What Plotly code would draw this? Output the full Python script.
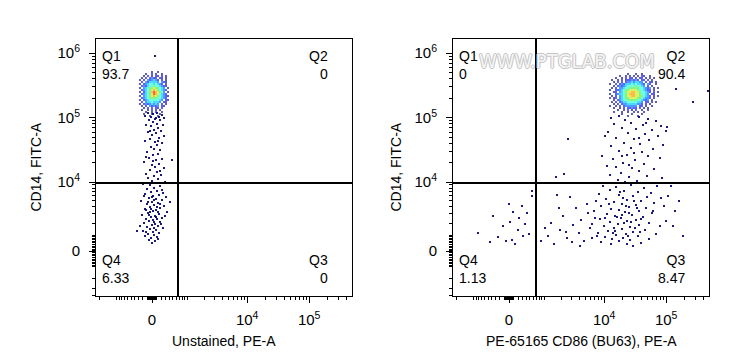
import numpy as np
import plotly.graph_objects as go

# ---------------- axis / label data ----------------
x_major_vals = [0, 1e4, 1e5]
x_major_text = ["0", "10<sup>4</sup>", "10<sup>5</sup>"]
y_major_vals = [0, 1e4, 1e5, 1e6]
y_major_text = ["0", "10<sup>4</sup>", "10<sup>5</sup>", "10<sup>6</sup>"]

x_titles = ["Unstained, PE-A", "PE-65165 CD86 (BU63), PE-A"]
y_title = "CD14, FITC-A"

quad_names = ["Q1", "Q2", "Q3", "Q4"]
left_quad_vals = ["93.7", "0", "0", "6.33"]
right_quad_vals = ["0", "90.4", "8.47", "1.13"]

# gates in display channels (256-channel biexponential display)
left_gate = (82, 113)
right_gate = (83, 113)

level_colors = ['#00008b', '#0000ff', '#0070ff', '#00c8ff', '#30ffd0',
                '#50f050', '#c8f020', '#ffa000', '#ff2000']

# ---------------- event data (display channels) ----------------
# dense population, density level per 2-channel cell; rows top -> bottom
left_cluster_x0, left_cluster_y0 = 42, 224
left_cluster_rows = [
    ".......1..1.....",
    "....1..2.1..1...",
    "...1.2.1.21.2.1.",
    "..1.2.2312.21.1.",
    ".1.2.323432.2.1.",
    "..2.3244443.321.",
    ".1.2345545432.1.",
    "..2324556554321.",
    ".1.34566766543.1",
    "..2345678765432.",
    ".1.24568987653.1",
    "..2345679875432.",
    ".1.3456787654321",
    "..2345666655432.",
    ".1.2345555543.21",
    "..2.34454443.21.",
    ".1.23234343.2.1.",
    "..1.2.32323.21..",
    "...1.2.2.21.2...",
    "..1..1.2.1.1....",
    "....1..1.2..1...",
    "...1...1...1....",
    "......1...1.....",
]

right_cluster_x0, right_cluster_y0 = 155, 222
right_cluster_rows = [
    "..........1...1..1...........",
    "......1..1.1.2.1.21..1.......",
    "....1..1.2.21.2.12.1.1.1.....",
    "..1..1.2.1223232.22.2.1......",
    "...1.2.2.233434433.2.21.1....",
    ".1..2.2324445454432.32..1....",
    "...1.23234555565543.2.1......",
    "..1.2.3345566666554323.1.1...",
    ".1..223456677776554322.1.....",
    "...12.3456778877655432.2.1...",
    ".1..23445678887765543.21.....",
    "..1.2.3456778877665432.1.1...",
    ".1.12.3456677776654332.1.....",
    "...1.2345566666554323.1......",
    "..1.2.234455555443.22.1.1....",
    "...1.2.23344444332.2.1.......",
    ".1..1.2.2333333.22.1..1......",
    "...1..1.2.22322.2.1.1........",
    ".....1..1.2.1.2..1..1........",
    "...1...1..1..1.1..1..........",
    ".......1....1....1...........",
    "..........1....1.............",
]

# sparse events (x channel, y channel)
left_sparse = [
    (52,183),(57,182),(61,183),(66,181),(49,180),(55,179),(63,179),(68,178),(59,177),(53,176),
    (64,176),(57,174),(61,172),(50,171),(67,171),(55,170),(62,168),(58,166),(65,165),(52,164),
    (60,163),(56,161),(68,160),(63,158),(54,157),(49,155),(59,154),(66,153),(61,151),(55,149),
    (58,147),(64,146),(51,144),(62,142),(57,141),(53,138),(66,137),(60,136),(48,134),(63,132),
    (56,131),(59,129),(68,128),(54,126),(61,124),(50,122),(65,121),(58,120),(52,118),(62,117),
    (56,115),(69,114),(60,113),(47,112),(54,111),(64,110),(58,108),(51,107),(66,106),(61,105),
    (55,104),(49,102),(63,101),(57,100),(70,99),(53,98),(60,97),(66,96),(45,95),(56,94),
    (62,93),(51,92),(58,91),(68,90),(54,89),(64,88),(49,87),(60,86),(57,85),(71,84),
    (52,83),(63,82),(46,81),(59,80),(55,79),(66,78),(50,77),(61,77),(57,76),(53,75),
    (64,74),(48,73),(59,72),(56,71),(62,70),(51,69),(67,68),(54,67),(60,66),(47,65),
    (57,64),(63,63),(52,62),(58,61),(49,60),(61,59),(55,58),(53,56),(59,55),(56,53),
    (62,57),(50,64),(65,72),(44,70),(69,80),(52,94),(48,100),(67,103),(55,87),(61,89),
    (53,81),(58,68),(41,65),(74,94),(76,136),(59,240),(64,125),(50,139),(57,135),(62,155),
    (54,165),(60,178),(58,96),(54,84),(60,79),(50,86),(64,92),(56,99),(62,84),(58,74),
]

right_sparse = [
    # Q2 below the population
    (158,178),(166,180),(172,176),(186,179),(195,177),(203,175),(161,172),(178,173),(190,171),(208,170),
    (169,168),(183,167),(199,166),(155,164),(175,163),(192,162),(205,160),(163,158),(181,157),(196,156),
    (171,153),(187,152),(210,151),(158,150),(178,148),(200,147),(166,145),(189,144),(174,141),(195,140),
    (207,138),(160,137),(182,136),(170,133),(191,132),(163,129),(179,128),(201,127),(186,125),(168,123),
    (157,121),(194,120),(176,119),(209,118),(165,116),(184,115),(172,114),(198,113),(152,160),(154,130),
    (149,140),(213,165),(181,143),(169,140),(186,158),(176,131),(193,173),(115,157),(103,119),(111,122),
    (255,205),(240,194),(223,207),(214,169),
    # Q3
    (150,110),(163,109),(178,111),(191,108),(204,110),(157,106),(171,105),(185,104),(198,103),(146,102),
    (166,101),(180,100),(194,99),(208,98),(153,97),(174,96),(188,95),(161,94),(201,93),(169,92),
    (183,91),(148,90),(176,89),(193,88),(158,87),(166,86),(186,85),(172,84),(199,83),(154,82),
    (179,81),(162,80),(190,79),(168,78),(147,77),(183,76),(174,75),(157,74),(196,73),(165,72),
    (186,71),(151,70),(177,69),(161,68),(169,67),(192,66),(155,65),(180,64),(145,63),(173,62),
    (163,61),(185,60),(152,59),(170,58),(159,57),(177,56),(166,55),(148,54),(188,53),(174,52),
    (196,57),(203,62),(207,70),(160,63),(182,68),(171,73),(164,79),(176,83),(184,88),(170,98),
    (156,92),(188,77),(141,85),(139,72),(144,60),(158,52),(180,50),(200,85),(211,90),(213,75),
    (167,104),(181,95),(175,60),(162,65),(178,74),(152,78),(187,64),(169,81),(173,90),
    (88,55),(95,60),(101,52),(107,66),(114,58),(120,71),(126,63),(131,55),(137,68),(142,78),
    (98,73),(110,80),(123,88),(134,92),(117,99),(104,101),(128,76),(92,68),(113,64),(139,58),
    (127,50),(119,54),(135,83),(143,95),(106,88),
    (215,100),(222,85),(218,110),(230,60),(226,95),(220,70),
    # Q4
    (25,63),(37,54),(45,59),(56,92),(57,74),(59,56),(62,52),(69,90),(74,83),(65,66),
    (70,60),(79,105),(79,100),(50,70),(40,80),(66,78),(76,62),(53,55),(72,72),(60,84),
]

# ---------------- display transforms (biexponential-like) ----------------
LN10 = np.log(10)


def x_ch(v):
    return 56 + 62 * np.arcsinh(np.asarray(v, float) / 584) / LN10


def y_ch(v):
    return 45 + 64.5 * np.arcsinh(np.asarray(v, float) / 1716) / LN10


minor_raw = sorted({s * k * 10 ** e for s in (-1, 1) for e in (1, 2, 3, 4, 5, 6) for k in range(1, 10)})
x_minor = [float(x_ch(v)) for v in minor_raw if 0 <= x_ch(v) <= 256 and v not in x_major_vals]
y_minor = [float(y_ch(v)) for v in minor_raw if 0 <= y_ch(v) <= 257 and v not in y_major_vals]


def grid_points(rows, x0, y0):
    pts = []
    for r, row in enumerate(rows):
        for c, ch in enumerate(row):
            if ch.isdigit():
                pts.append((x0 + 2 * c, y0 - 2 * r, int(ch)))
    pts.sort(key=lambda p: p[2])
    return pts


fig = go.Figure()

panels = [
    dict(xa='x', ya='y', sparse=left_sparse,
         cluster=grid_points(left_cluster_rows, left_cluster_x0, left_cluster_y0)),
    dict(xa='x2', ya='y2', sparse=right_sparse,
         cluster=grid_points(right_cluster_rows, right_cluster_x0, right_cluster_y0)),
]

for p in panels:
    sx = [a for a, b in p['sparse']]
    sy = [b for a, b in p['sparse']]
    fig.add_trace(go.Scatter(x=sx, y=sy, mode='markers', xaxis=p['xa'], yaxis=p['ya'],
                             marker=dict(symbol='square', size=1.8, color='#000070',
                                         line=dict(width=0)),
                             showlegend=False, hoverinfo='skip'))
    cx = [q[0] for q in p['cluster']]
    cy = [q[1] for q in p['cluster']]
    cc = [level_colors[q[2] - 1] for q in p['cluster']]
    cs = [1.8 if q[2] <= 2 else 2.0 for q in p['cluster']]
    fig.add_trace(go.Scatter(x=cx, y=cy, mode='markers', xaxis=p['xa'], yaxis=p['ya'],
                             marker=dict(symbol='square', size=cs, color=cc,
                                         line=dict(width=0)),
                             showlegend=False, hoverinfo='skip'))

W, H = 730, 364
FONT = "Arial, 'Liberation Sans', Helvetica, sans-serif"
yd = [(H - 296) / H, (H - 39) / H]


def xaxis(dom, anchor):
    return dict(domain=dom, anchor=anchor, range=[0, 256], showgrid=False, zeroline=False,
                showline=True, linecolor='black', linewidth=1, mirror=True,
                ticks='outside', ticklen=6, tickwidth=1, tickcolor='black',
                tickmode='array', tickvals=[float(x_ch(v)) for v in x_major_vals],
                ticktext=x_major_text, ticklabelstandoff=4,
                tickfont=dict(family=FONT, size=15, color='black'),
                minor=dict(tickmode='array', tickvals=x_minor, ticks='outside', ticklen=3,
                           tickwidth=1, tickcolor='black', showgrid=False),
                fixedrange=True)


def yaxis(anchor):
    return dict(domain=yd, anchor=anchor, range=[0, 257], showgrid=False, zeroline=False,
                showline=True, linecolor='black', linewidth=1, mirror=True,
                ticks='outside', ticklen=6, tickwidth=1, tickcolor='black',
                tickmode='array', tickvals=[float(y_ch(v)) for v in y_major_vals],
                ticktext=y_major_text, ticklabelstandoff=6,
                tickfont=dict(family=FONT, size=15, color='black'),
                minor=dict(tickmode='array', tickvals=y_minor, ticks='outside', ticklen=3,
                           tickwidth=1, tickcolor='black', showgrid=False),
                fixedrange=True)


fig.update_layout(
    width=W, height=H, margin=dict(l=0, r=0, t=0, b=0),
    paper_bgcolor='white', plot_bgcolor='white',
    xaxis=xaxis([96 / W, 352 / W], 'y'),
    yaxis=yaxis('x'),
    xaxis2=xaxis([453 / W, 709 / W], 'y2'),
    yaxis2=yaxis('x2'),
)

shapes = []
for xa, ya, g in (('x', 'y', left_gate), ('x2', 'y2', right_gate)):
    shapes.append(dict(type='line', xref=xa, yref=ya, x0=g[0], x1=g[0], y0=0, y1=257,
                       line=dict(color='black', width=2)))
    shapes.append(dict(type='line', xref=xa, yref=ya, x0=0, x1=256, y0=g[1], y1=g[1],
                       line=dict(color='black', width=2)))
fig.update_layout(shapes=shapes)

ann = []

# watermark (drawn first so quadrant labels sit on top)
ann.append(dict(xref='paper', yref='paper', x=567 / W, y=(H - 61) / H, xanchor='center',
                yanchor='middle', showarrow=False, text="WWW.PTGLAB.COM",
                font=dict(family="'Liberation Sans Narrow', 'DejaVu Sans Condensed', Arial",
                          size=20, color='#f4f4f4',
                          shadow='1px 0 0 #c4c4c4, -1px 0 0 #c4c4c4, 0 1px 0 #c4c4c4, 0 -1px 0 #c4c4c4')))

qfont = dict(family=FONT, size=14, color='black')
for xa, ya, vals in (('x', 'y', left_quad_vals), ('x2', 'y2', right_quad_vals)):
    xd, ydm = xa + ' domain', ya + ' domain'
    ann.append(dict(xref=xd, yref=ydm, x=4 / 256, y=0.90, xanchor='left', yanchor='middle',
                    align='left', showarrow=False, font=qfont,
                    text=f"{quad_names[0]}<br>{vals[0]}"))
    ann.append(dict(xref=xd, yref=ydm, x=234 / 256, y=0.90, xanchor='right', yanchor='middle',
                    align='right', showarrow=False, font=qfont,
                    text=f"{quad_names[1]}<br>{vals[1]}"))
    ann.append(dict(xref=xd, yref=ydm, x=234 / 256, y=0.105, xanchor='right', yanchor='middle',
                    align='right', showarrow=False, font=qfont,
                    text=f"{quad_names[2]}<br>{vals[2]}"))
    ann.append(dict(xref=xd, yref=ydm, x=4 / 256, y=0.105, xanchor='left', yanchor='middle',
                    align='left', showarrow=False, font=qfont,
                    text=f"{quad_names[3]}<br>{vals[3]}"))

tfont = dict(family=FONT, size=14, color='black')
for cx, title in ((224, x_titles[0]), (581, x_titles[1])):
    ann.append(dict(xref='paper', yref='paper', x=cx / W, y=(H - 341) / H, xanchor='center',
                    yanchor='middle', showarrow=False, font=tfont, text=title))
for cx in (35, 395):
    ann.append(dict(xref='paper', yref='paper', x=cx / W, y=(H - 167.5) / H, xanchor='center',
                    yanchor='middle', showarrow=False, font=tfont, text=y_title, textangle=-90))

fig.update_layout(annotations=ann)

fig.write_html("out.html")
